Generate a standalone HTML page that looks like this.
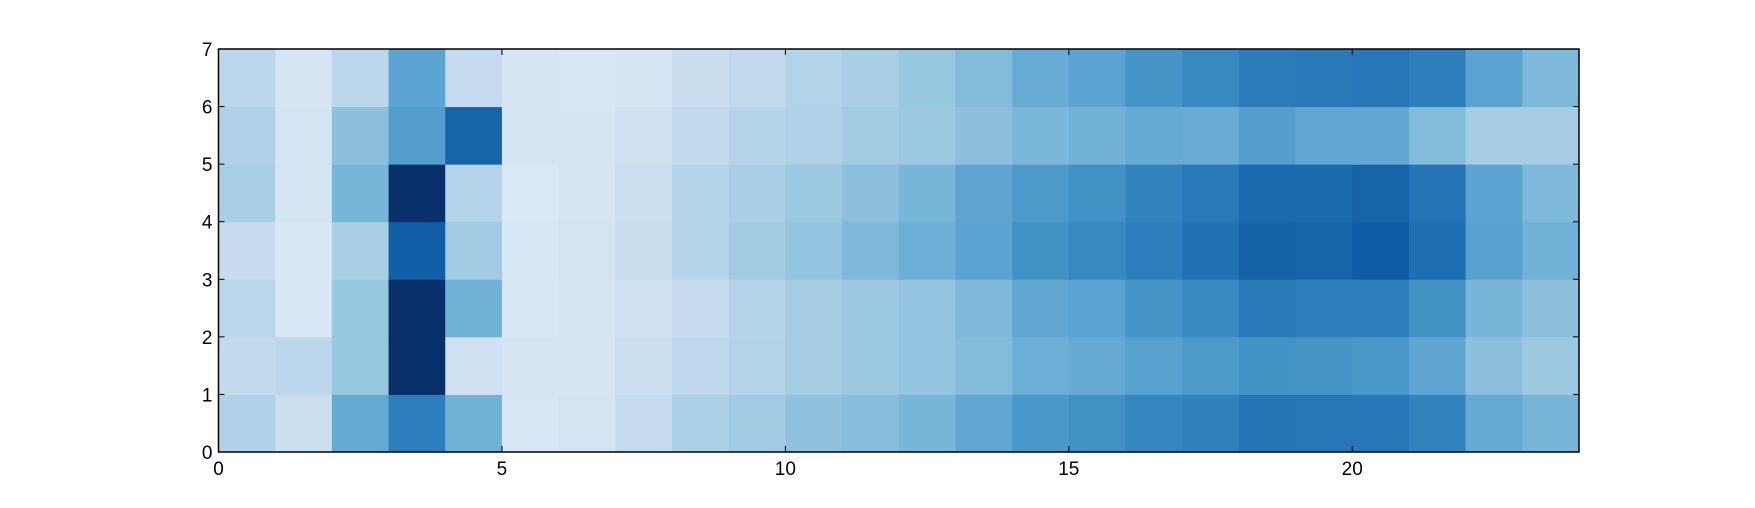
<!DOCTYPE html>
<html><head><meta charset="utf-8"><style>
html,body{margin:0;padding:0;background:#fff;}
svg text{font-family:"Liberation Sans","DejaVu Sans",sans-serif;font-size:19px;fill:#000;}
</style></head><body>
<svg id="chart" width="1755" height="503" xmlns="http://www.w3.org/2000/svg">
<g id="cells"></g>
<g id="axes"></g>
</svg>
<script>
// rows listed bottom (y 0-1) to top (y 6-7); 24 columns each
const row0 = [0.32,0.22,0.52,0.70,0.48,0.16,0.18,0.25,0.33,0.37,0.41,0.43,0.47,0.53,0.60,0.63,0.67,0.69,0.74,0.73,0.73,0.68,0.52,0.47];
const row1 = [0.26,0.28,0.39,1.00,0.20,0.17,0.17,0.22,0.27,0.31,0.35,0.38,0.40,0.44,0.50,0.52,0.56,0.59,0.62,0.61,0.60,0.54,0.42,0.38];
const row2 = [0.29,0.16,0.39,1.00,0.48,0.16,0.17,0.20,0.25,0.30,0.35,0.38,0.40,0.45,0.53,0.55,0.61,0.66,0.72,0.70,0.70,0.63,0.47,0.42];
const row3 = [0.24,0.16,0.34,0.82,0.37,0.16,0.18,0.23,0.30,0.36,0.40,0.45,0.50,0.55,0.63,0.66,0.70,0.75,0.81,0.80,0.83,0.76,0.56,0.48];
const row4 = [0.34,0.18,0.47,1.00,0.30,0.15,0.17,0.22,0.30,0.34,0.38,0.42,0.47,0.54,0.59,0.63,0.68,0.72,0.78,0.78,0.80,0.74,0.55,0.45];
const row5 = [0.32,0.18,0.42,0.57,0.80,0.17,0.17,0.20,0.26,0.30,0.32,0.36,0.38,0.42,0.46,0.48,0.52,0.51,0.57,0.53,0.53,0.44,0.35,0.35];
const row6 = [0.28,0.17,0.28,0.55,0.25,0.17,0.16,0.17,0.23,0.26,0.31,0.34,0.39,0.44,0.51,0.55,0.61,0.66,0.71,0.72,0.73,0.70,0.55,0.45];
const rows = [row0,row1,row2,row3,row4,row5,row6];
const xTicks = [0,5,10,15,20];
const yTicks = [0,1,2,3,4,5,6,7];

const L=218.5,R=1579,T=49,B=452,NX=24,NY=7;
const sx=v=>L+(R-L)*v/NX, sy=v=>B-(B-T)*v/NY;
const stops=[[247,251,255],[222,235,247],[198,219,239],[158,202,225],[107,174,214],[66,146,198],[33,113,181],[8,81,156],[8,48,107]];
function cmap(v){v=Math.max(0,Math.min(1,v));const p=v*8,i=Math.min(7,Math.floor(p)),f=p-i;
 const a=stops[i],b=stops[i+1];return 'rgb('+a.map((c,k)=>Math.round(c+(b[k]-c)*f)).join(',')+')';}
const NS='http://www.w3.org/2000/svg';
const cells=document.getElementById('cells'), axes=document.getElementById('axes');
function mk(t,a,p){const e=document.createElementNS(NS,t);for(const k in a)e.setAttribute(k,a[k]);p.appendChild(e);return e;}
rows.forEach((r,j)=>r.forEach((v,i)=>{
 const e=mk('rect',{x:sx(i),y:sy(j+1),width:sx(i+1)-sx(i)+0.5,height:sy(j)-sy(j+1)+0.5,fill:cmap(v)},cells);
 
 
}));
const fr=mk('rect',{x:L,y:T,width:R-L,height:B-T,fill:'none',stroke:'#000','stroke-width':1.5},axes);


xTicks.forEach(v=>{
 const x=sx(v);
 mk('line',{x1:x,y1:B,x2:x,y2:B-6,stroke:'#000'},axes);
 mk('line',{x1:x,y1:T,x2:x,y2:T+6,stroke:'#000'},axes);
 const t=mk('text',{x:x,y:B+23,'text-anchor':'middle'},axes);t.textContent=v;
 
 
});
yTicks.forEach(v=>{
 const y=sy(v);
 mk('line',{x1:L,y1:y,x2:L+6,y2:y,stroke:'#000'},axes);
 mk('line',{x1:R,y1:y,x2:R-6,y2:y,stroke:'#000'},axes);
 const t=mk('text',{x:L-6,y:y+7,'text-anchor':'end'},axes);t.textContent=v;
 
 
});
</script>
</body></html>
